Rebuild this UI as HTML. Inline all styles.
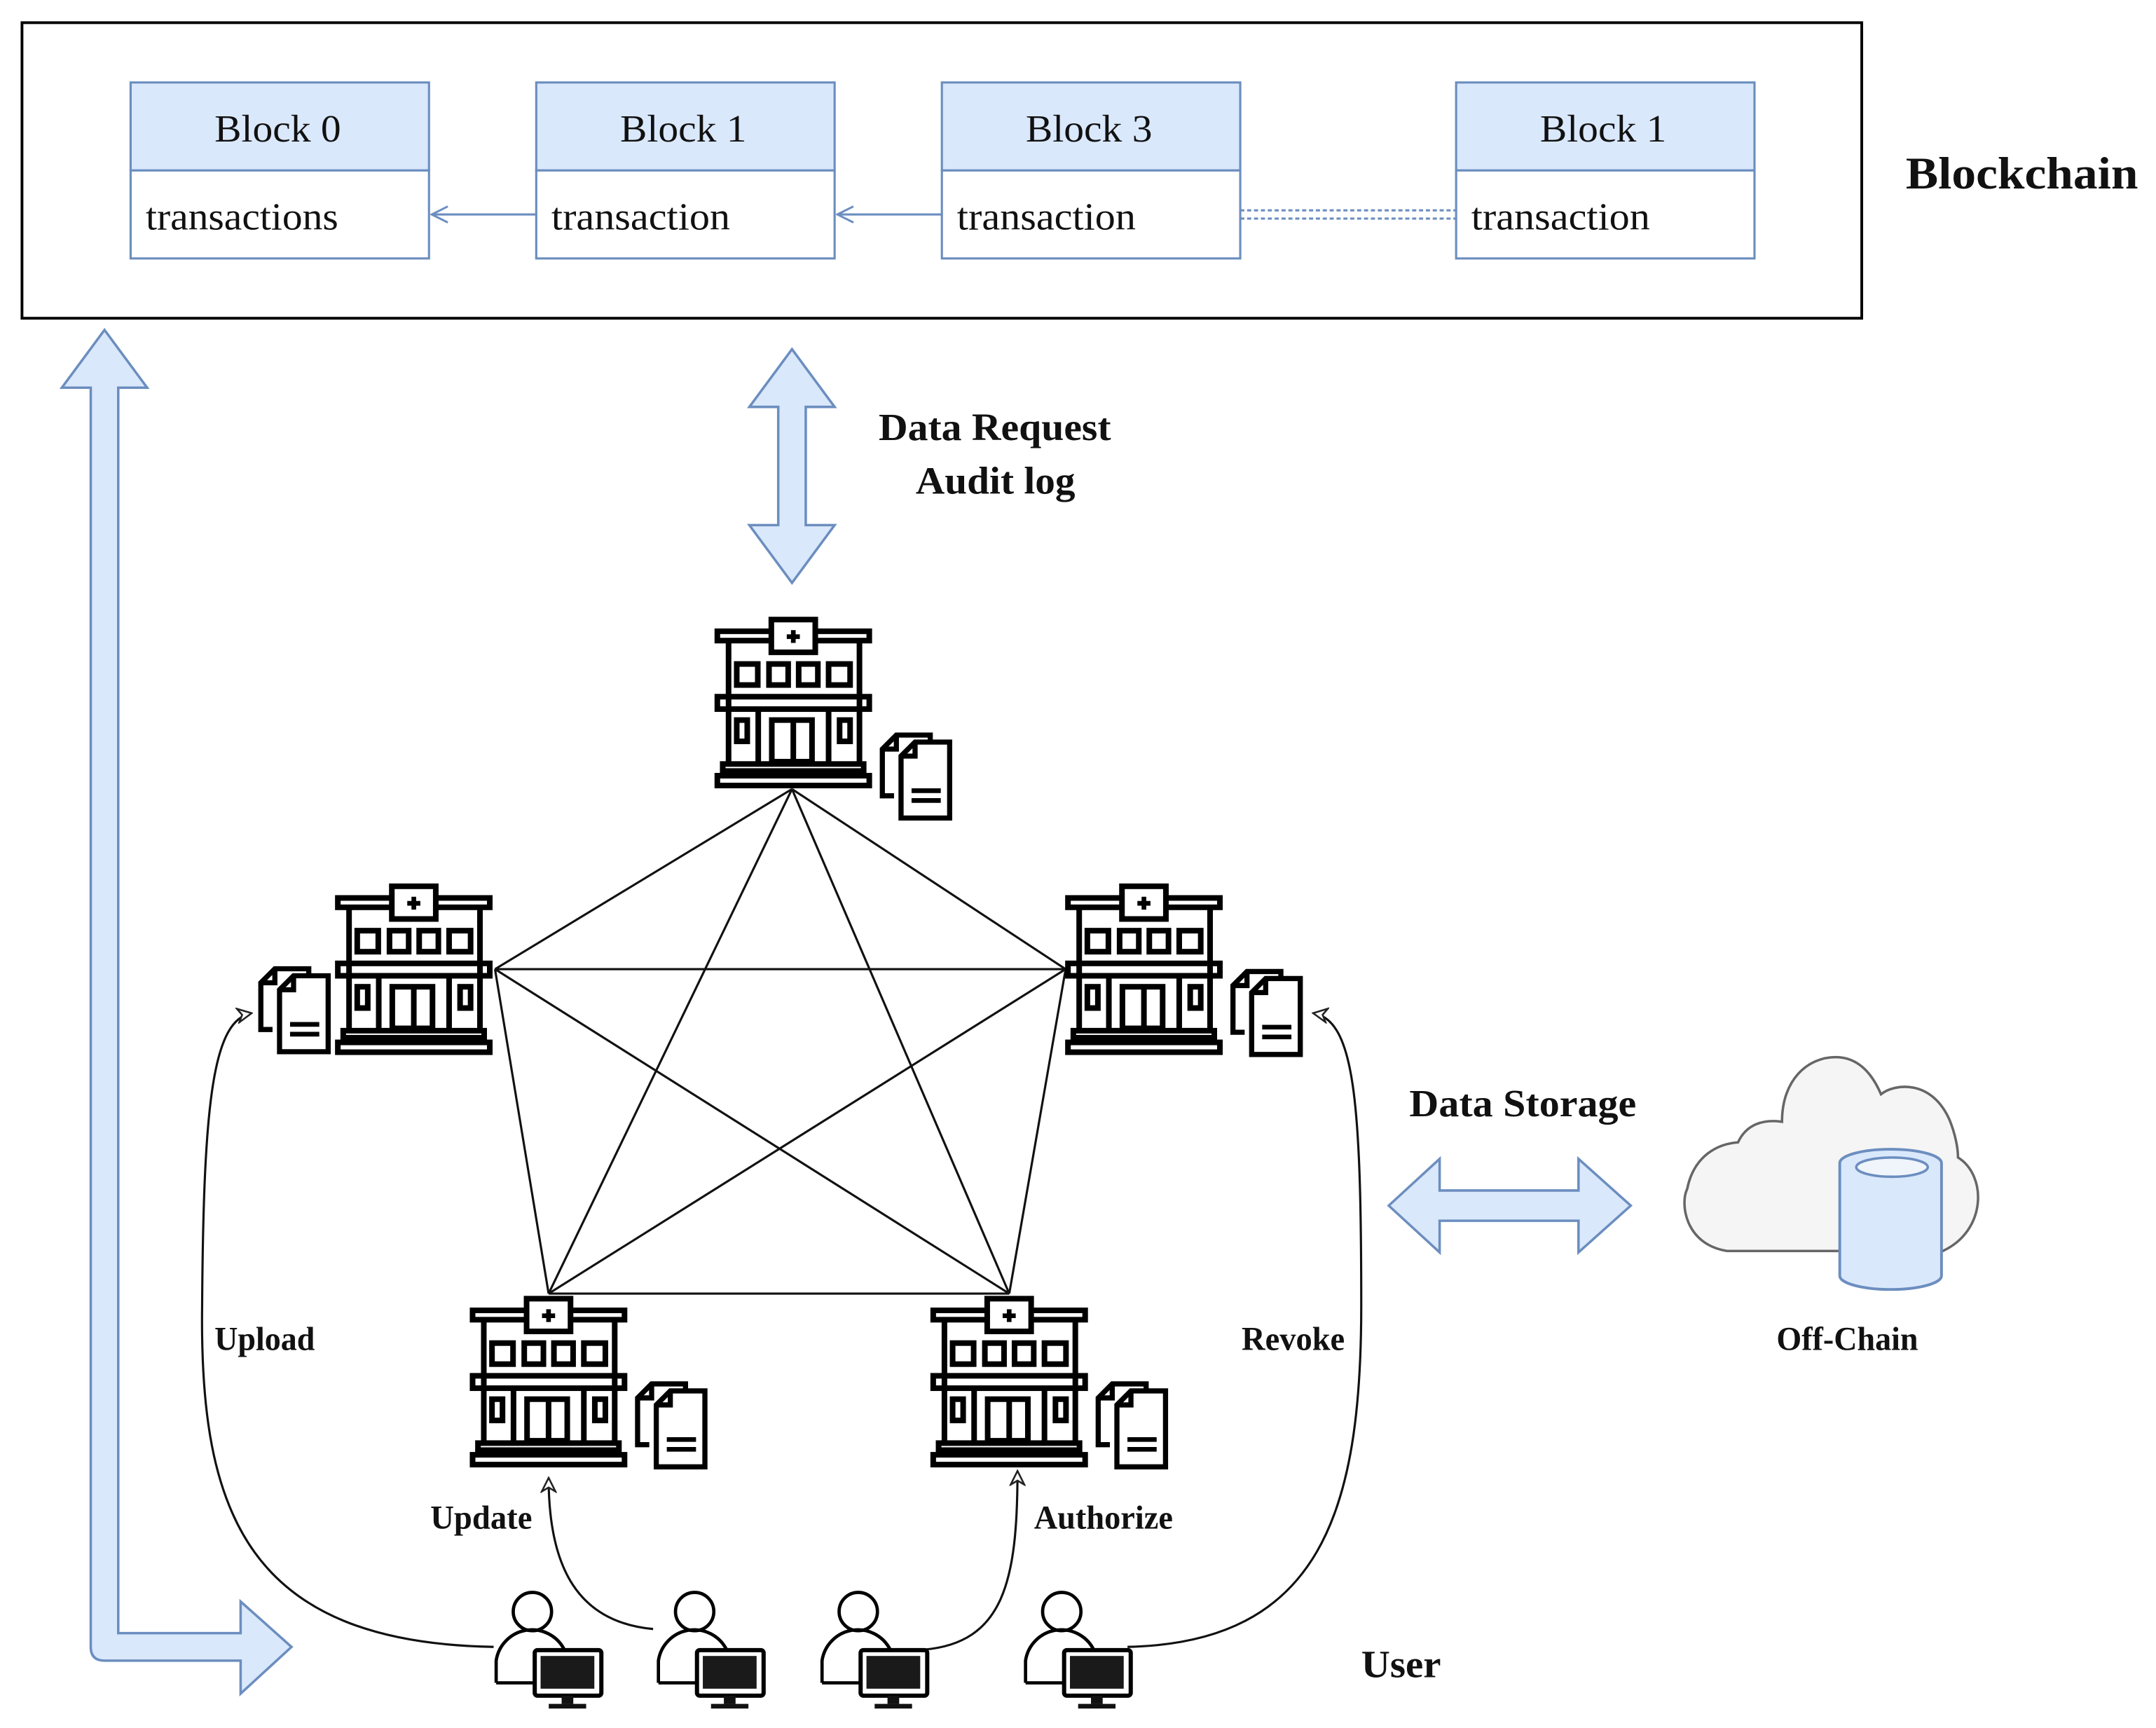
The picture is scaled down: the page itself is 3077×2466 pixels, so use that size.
<!DOCTYPE html>
<html><head><meta charset="utf-8"><style>
html,body{margin:0;padding:0;background:#fff;}
svg{display:block;}
.t{font-family:"Liberation Serif","Times New Roman",serif;fill:#111;}
.b{font-weight:bold;}
</style></head><body>
<svg width="3077" height="2466" viewBox="0 0 1568 1257" preserveAspectRatio="none" xmlns="http://www.w3.org/2000/svg">
<defs>
<g id="hosp" transform="scale(0.17)" fill="none" stroke="#000" stroke-width="24">
  <rect x="10" y="60" width="650" height="40"/>
  <rect x="241" y="10" width="188" height="140" fill="#fff"/>
  <path d="M335 55 V110 M307 83 H363" stroke-width="20"/>
  <line x1="58" y1="110" x2="58" y2="618"/>
  <line x1="618" y1="110" x2="618" y2="618"/>
  <rect x="93" y="200" width="90" height="90"/>
  <rect x="231" y="200" width="82" height="90"/>
  <rect x="358" y="200" width="82" height="90"/>
  <rect x="486" y="200" width="92" height="90"/>
  <rect x="10" y="340" width="650" height="53"/>
  <line x1="185" y1="403" x2="185" y2="618"/>
  <line x1="486" y1="403" x2="486" y2="618"/>
  <rect x="93" y="440" width="45" height="91"/>
  <rect x="533" y="440" width="45" height="91"/>
  <rect x="243" y="440" width="172" height="178"/>
  <line x1="335" y1="440" x2="335" y2="618"/>
  <rect x="33" y="628" width="603" height="30"/>
  <rect x="10" y="678" width="650" height="42"/>
</g>
<g id="docs" transform="scale(0.17)" fill="none" stroke="#000" stroke-width="22">
  <path d="M60 270 H10 V70 L70 10 H215 V60"/>
  <path d="M10 70 H70 V10"/>
  <path d="M90 100 L150 40 H298 V365 H90 Z" fill="#fff"/>
  <path d="M90 100 H150 V40"/>
  <path d="M135 248 H260 M135 290 H260" stroke-width="20"/>
</g>
<g id="user" transform="scale(0.17)">
  <circle cx="160" cy="90" r="82" fill="#fff" stroke="#000" stroke-width="14"/>
  <path d="M5 395 V300 A155 155 0 0 1 295 250" fill="none" stroke="#000" stroke-width="14"/>
  <line x1="5" y1="395" x2="165" y2="395" stroke="#000" stroke-width="14"/>
  <rect x="170" y="255" width="285" height="195" rx="12" fill="#fff" stroke="#000" stroke-width="18"/>
  <rect x="195" y="280" width="230" height="140" fill="#1a1a1a"/>
  <rect x="285" y="450" width="50" height="35" fill="#111"/>
  <rect x="230" y="485" width="160" height="20" fill="#111"/>
</g>
<marker id="oa" viewBox="0 0 12 12" refX="11" refY="6" markerWidth="12" markerHeight="12" markerUnits="userSpaceOnUse" orient="auto">
  <path d="M1 1 L11 6 L1 11 L4 6 Z" fill="#fff" stroke="#222" stroke-width="1.3"/>
</marker>
<marker id="ba" viewBox="0 0 12 12" refX="11" refY="6" markerWidth="14" markerHeight="14" markerUnits="userSpaceOnUse" orient="auto">
  <path d="M1 1 L11 6 L1 11" fill="none" stroke="#6c8ebf" stroke-width="1.3"/>
</marker>
</defs>

<rect x="16" y="16.5" width="1338" height="215" fill="#fff" stroke="#000" stroke-width="2"/>
<g stroke="#6c8ebf" stroke-width="1.6">
  <rect x="95" y="60" width="217" height="64" fill="#dae8fc"/><rect x="95" y="124" width="217" height="64" fill="#fff"/>
  <rect x="390" y="60" width="217" height="64" fill="#dae8fc"/><rect x="390" y="124" width="217" height="64" fill="#fff"/>
  <rect x="685" y="60" width="217" height="64" fill="#dae8fc"/><rect x="685" y="124" width="217" height="64" fill="#fff"/>
  <rect x="1059" y="60" width="217" height="64" fill="#dae8fc"/><rect x="1059" y="124" width="217" height="64" fill="#fff"/>
  <line x1="390" y1="156" x2="314" y2="156" marker-end="url(#ba)"/>
  <line x1="685" y1="156" x2="609" y2="156" marker-end="url(#ba)"/>
  <line x1="902" y1="153" x2="1059" y2="153" stroke-dasharray="3,2"/>
  <line x1="902" y1="159" x2="1059" y2="159" stroke-dasharray="3,2"/>
</g>
<g class="t" font-size="28">
  <text x="156" y="103" textLength="92" lengthAdjust="spacingAndGlyphs">Block 0</text>
  <text x="451" y="103" textLength="92" lengthAdjust="spacingAndGlyphs">Block 1</text>
  <text x="746" y="103" textLength="92" lengthAdjust="spacingAndGlyphs">Block 3</text>
  <text x="1120" y="103" textLength="92" lengthAdjust="spacingAndGlyphs">Block 1</text>
  <text x="106" y="167" textLength="140" lengthAdjust="spacingAndGlyphs">transactions</text>
  <text x="401" y="167" textLength="130" lengthAdjust="spacingAndGlyphs">transaction</text>
  <text x="696" y="167" textLength="130" lengthAdjust="spacingAndGlyphs">transaction</text>
  <text x="1070" y="167" textLength="130" lengthAdjust="spacingAndGlyphs">transaction</text>
</g>
<text class="t b" x="1386" y="137" font-size="33" textLength="169" lengthAdjust="spacingAndGlyphs">Blockchain</text>

<path d="M76 240 L107 282 L86 282 L86 1188 L175 1188 L175 1165 L212 1198 L175 1232 L175 1208 L76 1208 Q66 1208 66 1198 L66 282 L45 282 Z" fill="#dae8fc" stroke="#6c8ebf" stroke-width="1.8"/>
<path d="M576 254 L607 296 L586 296 L586 382 L607 382 L576 424 L545 382 L566 382 L566 296 L545 296 Z" fill="#dae8fc" stroke="#6c8ebf" stroke-width="1.8"/>
<text class="t b" x="639" y="320" font-size="28" textLength="169" lengthAdjust="spacingAndGlyphs">Data Request</text>
<text class="t b" x="666" y="359" font-size="28" textLength="116" lengthAdjust="spacingAndGlyphs">Audit log</text>
<path d="M1010 877 L1047 843 L1047 866 L1148 866 L1148 843 L1186 877 L1148 911 L1148 888 L1047 888 L1047 911 Z" fill="#dae8fc" stroke="#6c8ebf" stroke-width="1.8"/>
<text class="t b" x="1025" y="812" font-size="28" textLength="165" lengthAdjust="spacingAndGlyphs">Data Storage</text>

<path d="M1256 910 C1225 905 1222 875 1227 865 C1232 840 1250 832 1264 831 C1270 818 1282 814 1296 816 C1296 785 1315 769 1335 769 C1352 769 1362 782 1368 796 C1378 788 1405 785 1418 815 C1422 825 1424 835 1424 842 C1445 855 1445 895 1413 910 Z" fill="#f5f5f5" stroke="#666" stroke-width="1.8"/>
<path d="M1338 846 L1338 928 A37 10 0 0 0 1412 928 L1412 846 A37 10 0 0 0 1338 846 Z" fill="#dae8fc" stroke="#6c8ebf" stroke-width="2"/>
<ellipse cx="1376" cy="849" rx="26" ry="7" fill="#f0f5fc" stroke="#6c8ebf" stroke-width="1.8"/>
<text class="t b" x="1292" y="982" font-size="24" textLength="103" lengthAdjust="spacingAndGlyphs">Off-Chain</text>

<g stroke="#111" stroke-width="1.6" fill="none">
  <line x1="576" y1="574" x2="360" y2="705"/>
  <line x1="576" y1="574" x2="775" y2="705"/>
  <line x1="576" y1="574" x2="399" y2="941"/>
  <line x1="576" y1="574" x2="734" y2="941"/>
  <line x1="360" y1="705" x2="775" y2="705"/>
  <line x1="360" y1="705" x2="399" y2="941"/>
  <line x1="360" y1="705" x2="734" y2="941"/>
  <line x1="775" y1="705" x2="399" y2="941"/>
  <line x1="775" y1="705" x2="734" y2="941"/>
  <line x1="399" y1="941" x2="734" y2="941"/>
</g>

<use href="#hosp" x="520" y="449"/>
<use href="#hosp" x="244" y="643"/>
<use href="#hosp" x="775" y="643"/>
<use href="#hosp" x="342" y="943"/>
<use href="#hosp" x="677" y="943"/>
<use href="#docs" x="640" y="533"/>
<use href="#docs" x="188" y="703"/>
<use href="#docs" x="895" y="705"/>
<use href="#docs" x="462" y="1005"/>
<use href="#docs" x="797" y="1005"/>

<g stroke="#111" stroke-width="1.6" fill="none">
  <path d="M359 1198 C180 1195 145 1100 147 950 C148 800 155 742 183 737" marker-end="url(#oa)"/>
  <path d="M475 1185 C420 1180 399 1140 399 1075" marker-end="url(#oa)"/>
  <path d="M672 1200 C730 1195 740 1150 740 1070" marker-end="url(#oa)"/>
  <path d="M820 1198 C960 1195 990 1100 990 950 C990 800 985 742 955 737" marker-end="url(#oa)"/>
</g>
<g class="t b" font-size="24">
  <text x="156" y="982" textLength="73" lengthAdjust="spacingAndGlyphs">Upload</text>
  <text x="903" y="982" textLength="75" lengthAdjust="spacingAndGlyphs">Revoke</text>
  <text x="313" y="1112" textLength="74" lengthAdjust="spacingAndGlyphs">Update</text>
  <text x="752" y="1112" textLength="101" lengthAdjust="spacingAndGlyphs">Authorize</text>
</g>
<text class="t b" x="990" y="1220" font-size="28" textLength="58" lengthAdjust="spacingAndGlyphs">User</text>

<use href="#user" x="360" y="1157"/>
<use href="#user" x="478" y="1157"/>
<use href="#user" x="597" y="1157"/>
<use href="#user" x="745" y="1157"/>
</svg>
</body></html>
